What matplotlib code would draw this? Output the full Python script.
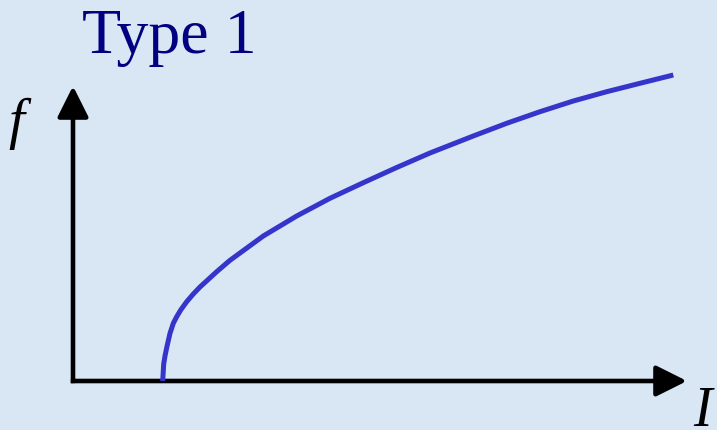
import matplotlib
matplotlib.use("Agg")
import matplotlib.pyplot as plt

# Data (current I vs firing frequency f, arbitrary units)
I_vals = [0.897, 0.907, 0.920, 0.937, 0.970, 1.003, 1.037, 1.077, 1.137, 1.203, 1.270,
          1.437, 1.570, 1.903, 2.237, 2.570, 2.903, 3.237, 3.570, 4.003, 4.337, 4.670,
          5.003, 5.337, 5.670, 6.003]
f_vals = [0.000, 0.170, 0.250, 0.333, 0.477, 0.577, 0.643, 0.710, 0.793, 0.870, 0.940,
          1.093, 1.207, 1.450, 1.650, 1.827, 1.983, 2.135, 2.280, 2.450, 2.577, 2.693,
          2.800, 2.893, 2.977, 3.060]
title_text = "Type 1"
x_label = "I"
y_label = "f"

W, H, DPI = 717, 430, 100
fig = plt.figure(figsize=(W / DPI, H / DPI), dpi=DPI)
bg = "#d9e6f4"
fig.patch.set_facecolor(bg)
ax = fig.add_axes([0, 0, 1, 1])
ax.set_facecolor(bg)
ax.set_xlim(-0.73, 6.44)
ax.set_ylim(-0.49, 3.81)
ax.axis("off")

axis_lw = 3.3
arrow_style = "-|>,head_length=1.0,head_width=0.5"
ax.annotate("", xy=(0, 2.95), xytext=(0, -0.022),
            arrowprops=dict(arrowstyle=arrow_style, mutation_scale=19, lw=axis_lw,
                            color="black", shrinkA=0, shrinkB=0,
                            capstyle="butt"))
ax.annotate("", xy=(6.14, 0), xytext=(-0.022, 0),
            arrowprops=dict(arrowstyle=arrow_style, mutation_scale=19, lw=axis_lw,
                            color="black", shrinkA=0, shrinkB=0,
                            capstyle="butt"))

ax.plot(I_vals, f_vals, color="#3535cc", lw=3.6, solid_capstyle="butt",
        solid_joinstyle="round", zorder=3)

serif = ["Liberation Serif", "DejaVu Serif"]
fig.text(82 / W, 1 - 53 / H, title_text, fontsize=46, color="#000080",
         family=serif, ha="left", va="baseline")
fig.text(8 / W, 1 - 138 / H, y_label, fontsize=41, style="italic", color="black",
         family=serif, ha="left", va="baseline")
fig.text(693 / W, 1 - 426 / H, x_label, fontsize=40, style="italic", color="black",
         family=serif, ha="left", va="baseline")

fig.savefig("out.png", dpi=DPI, facecolor=bg)
